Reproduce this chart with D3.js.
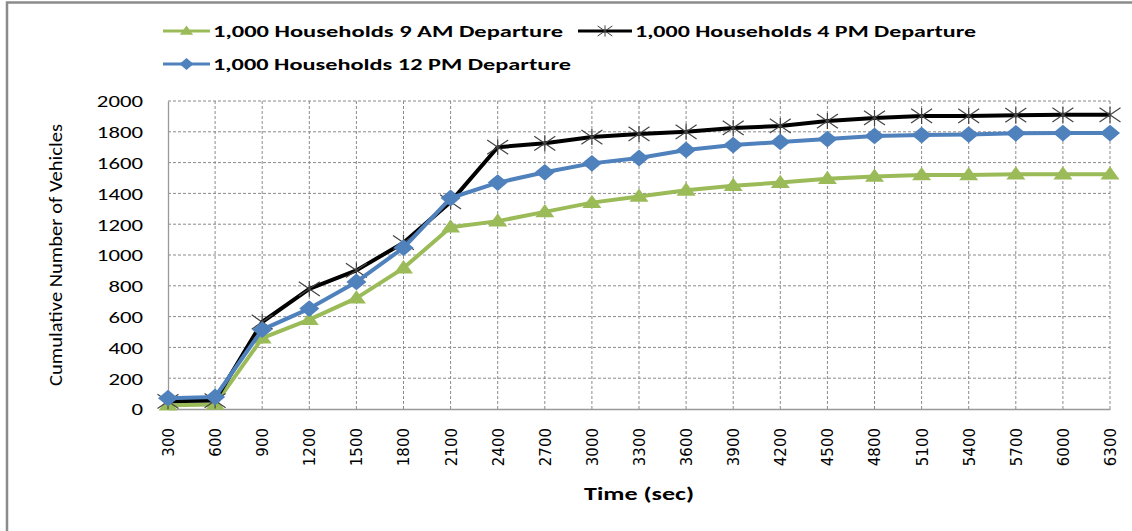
<!DOCTYPE html>
<html>
<head>
<meta charset="utf-8">
<script src="https://cdn.jsdelivr.net/npm/d3@7"></script>
<style>
  html, body { margin: 0; padding: 0; background: #fff; }
  svg { display: block; }
</style>
</head>
<body>
<svg id="chart" width="1132" height="531"></svg>
<script>
// ---------------- DATA ----------------
const times = ["300","600","900","1200","1500","1800","2100","2400","2700","3000","3300",
               "3600","3900","4200","4500","4800","5100","5400","5700","6000","6300"];
const yTicks = [0, 200, 400, 600, 800, 1000, 1200, 1400, 1600, 1800, 2000];
const seriesNames = ["1,000 Households 9 AM Departure",
                     "1,000 Households 4 PM Departure",
                     "1,000 Households 12 PM Departure"];
const am9  = [25, 30, 460, 580, 720, 915, 1180, 1220, 1280, 1340, 1380, 1420, 1450, 1470, 1495, 1510, 1520, 1520, 1525, 1525, 1525];
const pm4  = [50, 55, 565, 780, 900, 1080, 1345, 1700, 1725, 1766, 1786, 1800, 1825, 1838, 1870, 1890, 1903, 1903, 1908, 1910, 1910];
const pm12 = [70, 78, 515, 652, 825, 1047, 1370, 1470, 1537, 1595, 1630, 1682, 1714, 1734, 1753, 1773, 1779, 1782, 1790, 1792, 1792];
const xTitle = "Time (sec)";
const yTitle = "Cumulative Number of Vehicles";

// ---------------- SETUP ----------------
const svg = d3.select("#chart");
const pLeft = 168, pRight = 1110, pTop = 101, pBottom = 409;
const x = d3.scalePoint().domain(times).range([pLeft, pRight]);
const y = d3.scaleLinear().domain([0, 2000]).range([pBottom, pTop]);

const calibri = "Carlito, Lato, 'Open Sans', sans-serif";

// outer chart border
svg.append("rect").attr("x", 7).attr("y", 2.5).attr("width", 1200).attr("height", 600)
  .attr("fill", "none").attr("stroke", "#8c8c8c").attr("stroke-width", 2.5);

// custom marker shapes
const triangle = { draw(ctx, s) { const w = s, h = s * 0.7;
  ctx.moveTo(0, -h * 0.6); ctx.lineTo(w / 2, h * 0.4); ctx.lineTo(-w / 2, h * 0.4); ctx.closePath(); } };
const diamond = { draw(ctx, s) { const w = s / 2, h = s * 0.42;
  ctx.moveTo(0, -h); ctx.lineTo(w, 0); ctx.lineTo(0, h); ctx.lineTo(-w, 0); ctx.closePath(); } };
const star = { draw(ctx, s) { const w = s / 2, h = s * 0.34, v = s * 0.38;
  ctx.moveTo(-w, -h); ctx.lineTo(w, h); ctx.moveTo(-w, h); ctx.lineTo(w, -h);
  ctx.moveTo(0, -v); ctx.lineTo(0, v); } };

const series = [
  { name: seriesNames[0], values: am9,  color: "#9BBB59", shape: triangle, size: 19, stroke: false },
  { name: seriesNames[1], values: pm4,  color: "#000000", shape: star,     size: 21, stroke: true },
  { name: seriesNames[2], values: pm12, color: "#4F81BD", shape: diamond,  size: 20, stroke: false }
];

// ---------------- GRID ----------------
const grid = svg.append("g");
grid.selectAll("line.h").data(yTicks.filter(d => d > 0)).join("line")
  .attr("x1", pLeft).attr("x2", pRight).attr("y1", d => y(d)).attr("y2", d => y(d))
  .attr("stroke", "#8a8a8a").attr("stroke-width", 1).attr("stroke-dasharray", "3,2");
grid.selectAll("line.v").data(times.slice(1)).join("line")
  .attr("x1", d => x(d)).attr("x2", d => x(d)).attr("y1", pTop).attr("y2", pBottom)
  .attr("stroke", "#8a8a8a").attr("stroke-width", 1).attr("stroke-dasharray", "3,2");

// axes
const yAxis = svg.append("g").attr("transform", `translate(${pLeft},0)`)
  .call(d3.axisLeft(y).tickValues(yTicks).tickSize(0).tickPadding(0));
yAxis.select(".domain").attr("stroke", "#999").attr("stroke-width", 1.3);
yAxis.selectAll(".tick text").remove();
yAxis.selectAll(".tick").append("g").attr("transform", "translate(-25,0) scale(1.38,1)")
  .append("text").text(d => d).attr("text-anchor", "end").attr("dy", "0.36em")
  .attr("font-family", calibri).attr("font-size", 16.5).attr("fill", "#000");

const xAxis = svg.append("g").attr("transform", `translate(0,${pBottom})`)
  .call(d3.axisBottom(x).tickSize(0).tickPadding(0));
xAxis.select(".domain").attr("stroke", "#999").attr("stroke-width", 1.3);
xAxis.selectAll(".tick text")
  .attr("transform", "translate(0,19) rotate(-90)")
  .attr("text-anchor", "end").attr("dy", "0.36em").attr("dx", 0).attr("y", 0)
  .attr("font-family", "'DejaVu Sans', sans-serif").attr("font-size", 15).attr("fill", "#000");

// titles
svg.append("text").text(xTitle).attr("x", (pLeft + pRight) / 2).attr("y", 500)
  .attr("text-anchor", "middle").attr("font-family", calibri).attr("font-weight", "bold")
  .attr("font-size", 17).attr("textLength", 110).attr("lengthAdjust", "spacingAndGlyphs");
svg.append("text").text(yTitle)
  .attr("transform", `translate(62,${(pTop + pBottom) / 2}) rotate(-90)`)
  .attr("text-anchor", "middle").attr("font-family", calibri).attr("font-size", 19)
  .attr("textLength", 262).attr("lengthAdjust", "spacingAndGlyphs");

// ---------------- LINES ----------------
const line = d3.line().x((d, i) => x(times[i])).y(d => y(d));
series.forEach(s => {
  const g = svg.append("g");
  g.append("path").datum(s.values).attr("d", line)
    .attr("fill", "none").attr("stroke", s.color).attr("stroke-width", 4)
    .attr("stroke-linejoin", "round");
  const sym = d3.symbol().type(s.shape).size(s.size);
  g.selectAll("path.m").data(s.values).join("path")
    .attr("transform", (d, i) => `translate(${x(times[i])},${y(d)})`)
    .attr("d", sym)
    .attr("fill", s.stroke ? "none" : s.color)
    .attr("stroke", s.stroke ? "#444" : "none")
    .attr("stroke-width", 1.2);
});

// ---------------- LEGEND ----------------
const legendItems = [
  { s: series[0], x0: 163, yc: 31, tw: 350 },
  { s: series[1], x0: 578, yc: 31, tw: 341 },
  { s: series[2], x0: 163, yc: 64, tw: 358 }
];
const lg = svg.append("g");
legendItems.forEach(it => {
  const len = it.s === series[1] ? 54 : 47;
  lg.append("line").attr("x1", it.x0).attr("x2", it.x0 + len).attr("y1", it.yc).attr("y2", it.yc)
    .attr("stroke", it.s.color).attr("stroke-width", 3);
  lg.append("path").attr("transform", `translate(${it.x0 + len / 2},${it.yc})`)
    .attr("d", d3.symbol().type(it.s.shape).size(it.s.size * 0.7))
    .attr("fill", it.s.stroke ? "none" : it.s.color)
    .attr("stroke", it.s.stroke ? "#3a3a3a" : "none").attr("stroke-width", 1);
  lg.append("text").text(it.s.name).attr("x", it.x0 + len + 3).attr("y", it.yc + 5.5)
    .attr("font-family", calibri).attr("font-weight", "bold").attr("font-size", 15.5)
    .attr("textLength", it.tw).attr("lengthAdjust", "spacingAndGlyphs");
});
</script>
</body>
</html>
